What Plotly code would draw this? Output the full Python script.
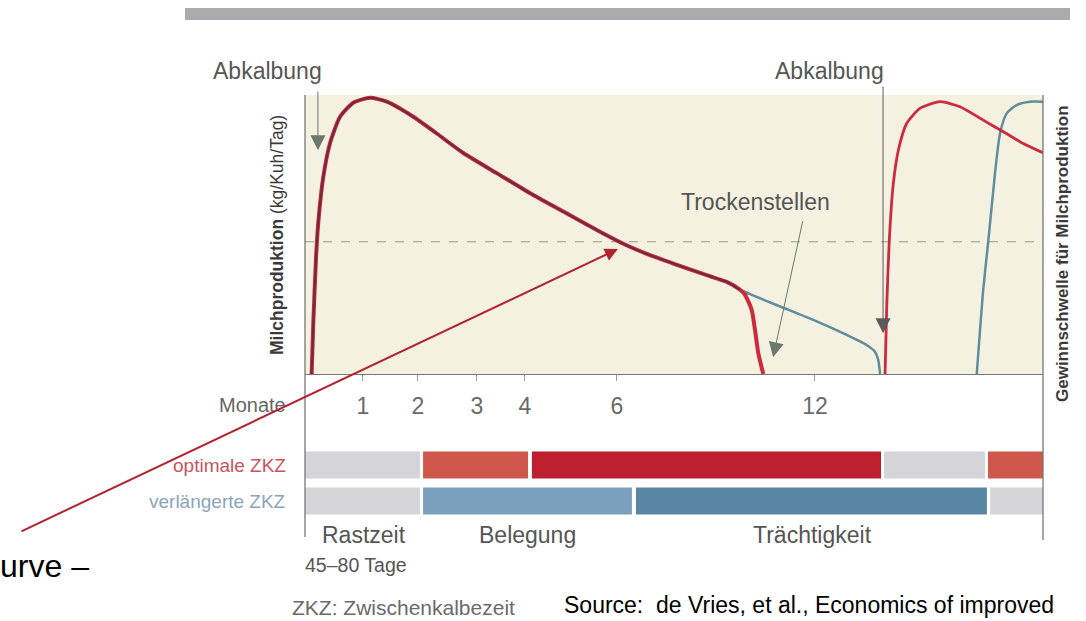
import plotly.graph_objects as go

# ---------------- data (x: time units 0..400, y: kg/Kuh/Tag 0..50) ----------------
common_x = [3.6, 4.5, 6.0, 7.2, 9.9, 13.6, 19.0, 26.2, 35.2, 44.3, 58.7, 71.4, 85.8, 103.9,
            122.0, 140.0, 158.1, 173.4, 187.0, 199.6, 217.7, 228.6, 235.8]
common_y = [0.0, 9.1, 21.0, 27.1, 35.3, 41.4, 46.1, 48.6, 49.5, 48.8, 46.1, 43.1, 39.6, 36.0,
            32.4, 29.1, 25.8, 23.2, 21.3, 19.8, 17.7, 16.5, 15.1]
red_dry_x = [238.5, 242.1, 243.9, 245.7, 248.4]
red_dry_y = [14.2, 11.5, 7.9, 3.7, 0.0]
blue_ext_x = [241.2, 257.5, 275.5, 293.6, 304.4, 308.9, 310.7, 311.7]
blue_ext_y = [14.3, 12.1, 9.7, 7.0, 5.2, 4.0, 2.5, 0.0]
red2_x = [314.4, 315.3, 316.7, 318.9, 321.6, 326.1, 333.3, 344.2, 355.0, 367.6, 378.5, 389.3, 400.2]
red2_y = [0.0, 12.1, 24.0, 34.2, 40.1, 44.9, 47.6, 48.8, 47.9, 45.5, 43.4, 41.3, 39.6]
blue2_x = [364.1, 367.6, 370.4, 374.0, 376.7, 380.3, 385.7, 392.9, 400.2]
blue2_y = [0.0, 15.1, 24.0, 36.0, 43.1, 46.7, 48.2, 48.8, 48.8]
threshold = 23.7

month_ticks = [31.4, 61.2, 93.2, 119.2, 169.1, 276.4]
month_labels = ["1", "2", "3", "4", "6", "12"]

calving_x = [7.0, 313.3]
dry_off = (253.7, 3.0)

opt_start = [0.0, 64.0, 123.0, 313.8, 370.2]
opt_end = [62.3, 120.9, 312.2, 368.6, 400.0]
opt_phase = ["rest", "breed_opt", "preg_opt", "rest", "breed_opt"]
ext_start = [0.0, 64.0, 179.4, 371.3]
ext_end = [62.3, 177.2, 369.6, 400.0]
ext_phase = ["rest", "breed_ext", "preg_ext", "rest"]

phase_colors = {"rest": "#d5d5d9", "breed_opt": "#d0574c", "preg_opt": "#bd1f2f",
                "breed_ext": "#7b9fbc", "preg_ext": "#5a86a5"}

# ---------------- figure ----------------
W, H = 1086, 621
def px(x):
    return x / W
def py(y):
    return 1 - y / H

RED = "#cc2a3f"
BLUE = "#5f8d9e"
DARK = "#6a2c3a"
GRAY_ARROW = "#6b786b"
FONT = "Liberation Sans, Arial, sans-serif"

fig = go.Figure()

# threshold line
fig.add_trace(go.Scatter(x=[0, 400], y=[threshold, threshold], mode="lines",
                         line=dict(color="#9b9a86", width=1, dash="dash"), hoverinfo="skip"))
# extended lactation (blue)
fig.add_trace(go.Scatter(x=[common_x[-1]] + blue_ext_x, y=[common_y[-1]] + blue_ext_y, mode="lines",
                         line=dict(color=BLUE, width=2.5, shape="spline", smoothing=0.6)))
fig.add_trace(go.Scatter(x=blue2_x, y=blue2_y, mode="lines",
                         line=dict(color=BLUE, width=2.5, shape="spline", smoothing=0.6)))
# optimal (red)
fig.add_trace(go.Scatter(x=common_x + red_dry_x, y=common_y + red_dry_y, mode="lines",
                         line=dict(color=RED, width=4, shape="spline", smoothing=0.6)))
fig.add_trace(go.Scatter(x=common_x, y=common_y, mode="lines",
                         line=dict(color=DARK, width=2, shape="spline", smoothing=0.6)))
fig.add_trace(go.Scatter(x=red2_x, y=red2_y, mode="lines",
                         line=dict(color=RED, width=2.8, shape="spline", smoothing=0.6)))

# ZKZ bars
fig.add_trace(go.Bar(orientation="h", y=[1] * len(opt_start),
                     x=[e - s for s, e in zip(opt_start, opt_end)], base=opt_start,
                     width=0.75, marker=dict(color=[phase_colors[p] for p in opt_phase], line_width=0),
                     xaxis="x2", yaxis="y2"))
fig.add_trace(go.Bar(orientation="h", y=[0] * len(ext_start),
                     x=[e - s for s, e in zip(ext_start, ext_end)], base=ext_start,
                     width=0.75, marker=dict(color=[phase_colors[p] for p in ext_phase], line_width=0),
                     xaxis="x2", yaxis="y2"))

dom_x = [px(305), px(1043)]
fig.update_layout(
    width=W, height=H, margin=dict(l=0, r=0, t=0, b=0),
    paper_bgcolor="white", plot_bgcolor="white",
    showlegend=False, barmode="overlay",
    font=dict(family=FONT),
    xaxis=dict(domain=dom_x, range=[0, 400], showgrid=False, zeroline=False,
               showline=True, linecolor="#777777", linewidth=1.2,
               ticks="outside", ticklen=6, tickcolor="#9a9a9a", tickwidth=1,
               tickvals=month_ticks, ticktext=month_labels, ticklabelstandoff=5,
               tickfont=dict(size=23, color="#6a6a6a", family=FONT)),
    yaxis=dict(domain=[py(374), py(95)], range=[0, 50], showgrid=False, zeroline=False,
               showticklabels=False, ticks=""),
    xaxis2=dict(domain=dom_x, range=[0, 400], anchor="y2", showgrid=False, zeroline=False,
                showticklabels=False, ticks="", showline=False),
    yaxis2=dict(domain=[py(519), py(447)], range=[-0.5, 1.5], anchor="x2", showgrid=False,
                zeroline=False, showticklabels=False, ticks=""),
)

# beige plot background (main panel only)
fig.add_shape(type="rect", xref="x domain", yref="y domain", x0=0, x1=1, y0=0, y1=1,
              fillcolor="#f4f1e1", line_width=0, layer="below")
# decorative lines
fig.add_shape(type="rect", xref="paper", yref="paper", x0=px(185), x1=px(1070), y0=py(20), y1=py(8),
              fillcolor="#a9abae", line_width=0, layer="below")
fig.add_shape(type="line", xref="paper", yref="paper", x0=px(305), x1=px(305), y0=py(537), y1=py(95),
              line=dict(color="#777777", width=1.3))
fig.add_shape(type="line", xref="paper", yref="paper", x0=px(1043), x1=px(1043), y0=py(540), y1=py(95),
              line=dict(color="#777777", width=1.3))

def text(s, x, y, size, color="#555555", xanchor="center", angle=0, family=FONT):
    fig.add_annotation(text=s, x=px(x), y=py(y), xref="paper", yref="paper", showarrow=False,
                       xanchor=xanchor, yanchor="middle", textangle=angle,
                       font=dict(size=size, color=color, family=family))

text("Abkalbung", 267, 71, 23)
text("Abkalbung", 829, 71, 23)
text("<b>Milchproduktion</b> (kg/Kuh/Tag)", 277, 235, 17.5, color="#3a3a3a", angle=-90)
text("<b>Gewinnschwelle für Milchproduktion</b>", 1062, 254, 17, color="#3a3a3a", angle=-90)
text("Monate", 288, 405, 20, color="#666666", xanchor="right")
text("optimale ZKZ", 288, 465, 19, color="#c9545e", xanchor="right")
text("verlängerte ZKZ", 288, 501, 19, color="#8aa5b9", xanchor="right")
text("Rastzeit", 320, 535, 23, xanchor="left")
text("45–80 Tage", 303, 565, 19.5, xanchor="left")
text("Belegung", 527, 535, 23)
text("Trächtigkeit", 812, 535, 23)
text("ZKZ: Zwischenkalbezeit", 290, 607, 21, color="#6a6a6a", xanchor="left")
text("Source:  de Vries, et al., Economics of improved", 562, 605, 23, color="#000000", xanchor="left")
text("urve –", -2, 566, 32, color="#000000", xanchor="left")

# Trockenstellen label
fig.add_annotation(text="Trockenstellen", x=244.4, y=30.8, xref="x", yref="y", showarrow=False,
                   font=dict(size=23, color="#555555", family=FONT))

# arrows
fig.add_annotation(x=calving_x[0], y=40.1, ax=calving_x[0], ay=50.9, axref="x", ayref="y",
                   xref="x", yref="y", text="", showarrow=True, arrowhead=2, arrowsize=3,
                   arrowwidth=1, arrowcolor=GRAY_ARROW)
fig.add_annotation(x=calving_x[1], y=7.3, ax=calving_x[1], ay=51.8, axref="x", ayref="y",
                   xref="x", yref="y", text="", showarrow=True, arrowhead=2, arrowsize=3,
                   arrowwidth=1, arrowcolor="#5a5a5a")
fig.add_annotation(x=dry_off[0], y=dry_off[1], ax=269.9, ay=27.6, axref="x", ayref="y",
                   xref="x", yref="y", text="", showarrow=True, arrowhead=2, arrowsize=3,
                   arrowwidth=1, arrowcolor=GRAY_ARROW)
fig.add_annotation(x=169.6, y=22.4, ax=-598, ay=283, xref="x", yref="y", text="", showarrow=True,
                   arrowhead=2, arrowsize=1.3, arrowwidth=2, arrowcolor="#b0232f")

fig.write_html("out.html", config={"displayModeBar": False},
               post_script="document.body.style.margin='0';")
